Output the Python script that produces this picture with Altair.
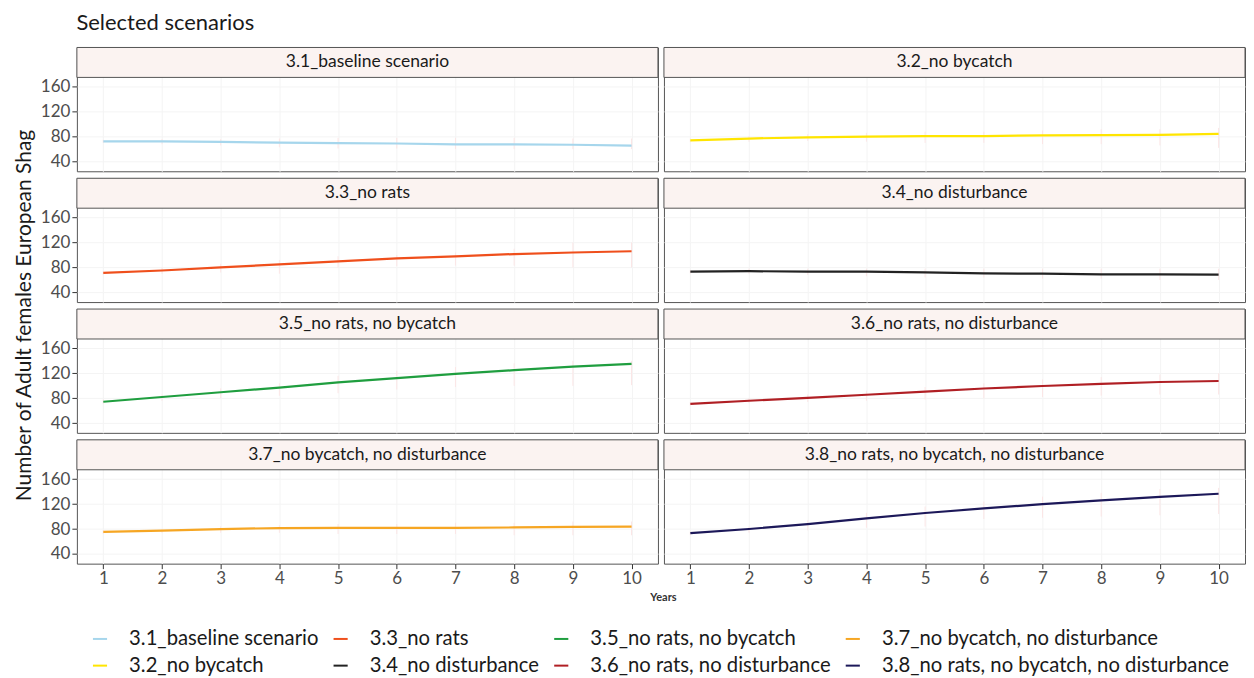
import altair as alt
import pandas as pd

FONT = "Lato"

years = list(range(1, 11))
scenarios = [
    "3.1_baseline scenario",
    "3.2_no bycatch",
    "3.3_no rats",
    "3.4_no disturbance",
    "3.5_no rats, no bycatch",
    "3.6_no rats, no disturbance",
    "3.7_no bycatch, no disturbance",
    "3.8_no rats, no bycatch, no disturbance",
]
colors = ["#a6d6ec", "#ffe500", "#ef4f1c", "#222222",
          "#1f9e3f", "#b01f24", "#f6a623", "#1c1859"]

v31 = [72.5, 72.5, 71.5, 70.5, 69.5, 69, 67.5, 67.5, 67, 65.5]
v32 = [74, 77, 79, 80, 81, 81, 82, 82.5, 83, 84.5]
v33 = [71.3, 75.1, 80, 85, 89.8, 94.4, 97.9, 101.5, 104, 106]
v34 = [73.4, 74, 73.4, 73.4, 72, 70.4, 70, 69, 69, 68.4]
v35 = [74.4, 82, 89.6, 97, 105.5, 112.4, 119, 125, 130.8, 135]
v36 = [71, 76, 80.5, 85.6, 90.6, 95.6, 99.6, 103, 106, 107.6]
v37 = [75.5, 77.5, 80, 81.5, 82, 82, 82, 82.5, 83.5, 84]
v38 = [73.4, 80, 88, 97, 105.7, 113, 120, 126, 131.6, 136.6]

lo31 = [70, 68, 66, 63, 61, 61, 60, 60, 60, 60]
hi31 = [75, 76, 76, 77, 78, 78, 78, 78, 77, 77]
lo32 = [71, 72, 73, 72, 70, 70, 68, 68, 66, 62]
hi32 = [77, 81, 84, 86, 88, 88, 90, 92, 92, 94]
lo33 = [68, 70, 72, 70, 80, 82, 83, 83, 80, 80]
hi33 = [74, 80, 86, 92, 98, 100, 104, 110, 120, 120]
lo34 = [70, 70, 68, 66, 64, 64, 62, 62, 60, 60]
hi34 = [76, 78, 78, 78, 78, 78, 78, 78, 78, 78]
lo35 = [71, 76, 80, 84, 88, 94, 98, 100, 100, 101]
hi35 = [78, 86, 96, 104, 116, 124, 130, 136, 140, 140]
lo36 = [68, 72, 74, 76, 78, 80, 82, 84, 86, 86]
hi36 = [74, 80, 86, 92, 98, 104, 110, 114, 118, 120]
lo37 = [72, 74, 74, 74, 72, 72, 72, 70, 70, 70]
hi37 = [78, 80, 84, 86, 88, 88, 90, 90, 92, 92]
lo38 = [70, 74, 78, 82, 84, 96, 98, 100, 102, 104]
hi38 = [76, 84, 94, 106, 116, 124, 132, 138, 144, 146]

values = [v31, v32, v33, v34, v35, v36, v37, v38]
lows = [lo31, lo32, lo33, lo34, lo35, lo36, lo37, lo38]
highs = [hi31, hi32, hi33, hi34, hi35, hi36, hi37, hi38]

y_ticks = [40, 80, 120, 160]
y_title = "Number of Adult females European Shag"

rows = []
for s, vals, lo, hi in zip(scenarios, values, lows, highs):
    for yr, v, l, h in zip(years, vals, lo, hi):
        rows.append({"scenario": s, "year": yr, "value": v, "lo": l, "hi": h})
df = pd.DataFrame(rows)

W, H = 582, 124
GAP_C, GAP_R = 6, 7
LEFT = 63
XDOM = [0.55, 10.45]
YDOM = [24.5, 223]
STRIP_LO, STRIP_HI = 175, 223


def panel(i, s):
    left = i % 2 == 0
    bottom = i // 2 == 3
    base = alt.Chart(df).transform_filter(alt.datum.scenario == s)

    xaxis_kw = dict(values=years, format="d", grid=True, gridColor="#f4f4f4",
                    domain=False, labels=bottom, ticks=bottom,
                    tickColor="#333333", tickSize=5,
                    labelFontSize=17, labelFont=FONT, labelColor="#4d4d4d",
                    labelPadding=2)
    if bottom and left:
        xaxis_kw.update(titleFont=FONT, titleFontSize=11,
                        titleFontWeight="bold", titleColor="#333333",
                        titleX=W + 5, titleY=34, titleAlign="center",
                        titleBaseline="middle")
        xtitle = "Years"
    else:
        xtitle = None
    yaxis_kw = dict(values=y_ticks, grid=True, gridColor="#f4f4f4", domain=False,
                    labels=left, ticks=left, tickColor="#333333", tickSize=5,
                    labelFontSize=17, labelFont=FONT, labelColor="#4d4d4d",
                    labelPadding=2)

    x = alt.X("year:Q", scale=alt.Scale(domain=XDOM, nice=False, zero=False),
              axis=alt.Axis(**xaxis_kw), title=xtitle)
    y = alt.Y("value:Q", scale=alt.Scale(domain=YDOM, nice=False, zero=False),
              axis=alt.Axis(**yaxis_kw), title=None)

    err = base.mark_rule(color="#fbe6e6", strokeWidth=1).encode(
        x=x, y=y, y2="hi:Q"
    ).transform_calculate(value="datum.lo")
    line = base.mark_line(strokeWidth=2.2).encode(
        x=alt.X("year:Q"),
        y=alt.Y("value:Q"),
        color=alt.Color(
            "scenario:N",
            scale=alt.Scale(domain=scenarios, range=colors),
            legend=alt.Legend(
                orient="none", legendX=76, legendY=582, columns=4, title=None,
                symbolType="stroke", symbolStrokeWidth=2, symbolSize=200,
                labelFontSize=20.3, labelFont=FONT, labelColor="#1a1a1a",
                columnPadding=11, rowPadding=6, labelOffset=19,
                labelLimit=400,
            ),
        ),
    )
    one = base.transform_filter(alt.datum.year == 1)
    strip = one.mark_rect(fill="#fbf3f1", stroke="#555555", strokeWidth=1).encode(
        x=alt.datum(XDOM[0]), x2=alt.datum(XDOM[1]),
        y=alt.datum(STRIP_LO), y2=alt.datum(STRIP_HI),
    )
    label = one.mark_text(fontSize=17.5, font=FONT, color="#1a1a1a").encode(
        x=alt.datum((XDOM[0] + XDOM[1]) / 2),
        y=alt.datum((STRIP_LO + STRIP_HI) / 2),
        text="scenario:N",
    )
    return alt.layer(err, line, strip, label).properties(width=W, height=H)


panels = [panel(i, s) for i, s in enumerate(scenarios)]
grid = alt.concat(*panels, columns=2, spacing={"row": GAP_R, "column": GAP_C},
                  bounds="flush")

GH = 4 * H + 3 * GAP_R
ytitle = alt.Chart(pd.DataFrame({"t": [y_title]})).mark_text(
    angle=270, fontSize=21, font=FONT, color="#1a1a1a"
).encode(
    x=alt.value(11), y=alt.value(GH / 2 + 10), text="t:N"
).properties(width=LEFT, height=GH, view=alt.ViewConfig(stroke="transparent"))

chart = alt.hconcat(ytitle, grid, spacing=0, bounds="flush").properties(
    title=alt.Title("Selected scenarios", anchor="start", dx=LEFT, fontSize=22,
                    font=FONT, fontWeight="normal", color="#1a1a1a", offset=12),
    padding={"left": 5, "top": 3, "right": 0, "bottom": 0},
).configure_view(stroke="#555555", strokeWidth=1)

chart.save("out.html", embed_options={"renderer": "svg", "actions": False})
